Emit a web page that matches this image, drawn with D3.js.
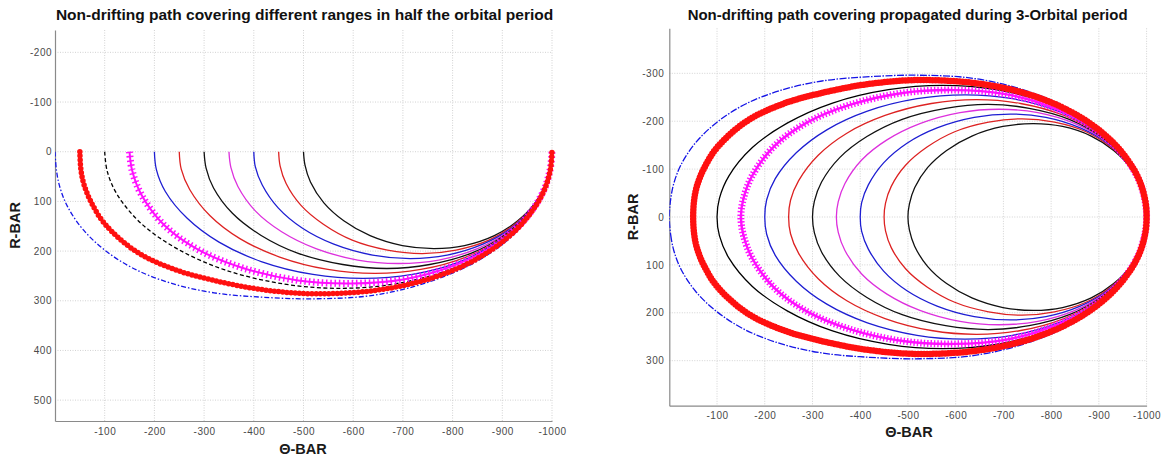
<!DOCTYPE html>
<html>
<head>
<meta charset="utf-8">
<script src="https://cdn.jsdelivr.net/npm/d3@7"></script>
<style>
  body { margin: 0; background: #fff; }
  text { font-family: "Liberation Sans", Arial, Helvetica, sans-serif; }
</style>
</head>
<body>
<svg id="chart" width="1165" height="459"></svg>
<script>
// tick values
const xTicks = [-100, -200, -300, -400, -500, -600, -700, -800, -900, -1000];
const yTicksLeft = [-200, -100, 0, 100, 200, 300, 400, 500];
const yTicksRight = [-300, -200, -100, 0, 100, 200, 300];

// each path: theta-bar samples, r-bar for the first half orbit (lo) and the second half (up)
// 0: blue dash-dot, starts at 0
const th0 = [0, -3, -10, -25, -55, -100, -160, -235, -320, -420, -525, -640, -750, -850, -925, -972, -994, -1000];
const lo0 = [0, 38, 72, 110, 155, 198, 236, 265, 284, 293, 296, 289, 263, 220, 165, 100, 45, 0];
const up0 = [0, -38, -72, -110, -155, -198, -236, -265, -284, -293, -296, -289, -263, -220, -165, -100, -45, 0];
// 1: red circles, starts at -50
const th1 = [-50, -52, -58, -72, -100, -162, -235, -315, -420, -530, -666, -780, -870, -935, -979, -996, -1000];
const lo1 = [0, 35, 65, 100, 145, 200, 235, 258, 278, 286, 276, 247, 203, 150, 89, 40, 0];
const up1 = [0, -35, -65, -100, -145, -200, -235, -258, -278, -286, -276, -247, -203, -150, -89, -40, 0];
// 2: black dashed, starts at -100
const th2 = [-100, -105, -125, -174, -247, -342, -459, -573, -684, -792, -877, -939, -980, -996, -1000];
const lo2 = [0, 39, 86, 145, 196, 238, 266, 275, 266, 238, 196, 145, 86, 39, 0];
const up2 = [0, -39, -86, -145, -196, -238, -266, -275, -266, -238, -196, -145, -86, -39, 0];
// 3: magenta plus, starts at -150
const th3 = [-150, -155, -173, -220, -288, -378, -489, -596, -701, -803, -883, -942, -981, -996, -1000];
const lo3 = [0, 37, 85, 148, 197, 234, 259, 265, 257, 229, 189, 140, 83, 37, 0];
const up3 = [0, -37, -85, -148, -197, -234, -259, -265, -257, -229, -189, -140, -83, -37, 0];
// 4: blue, starts at -200
const th4 = [-200, -204, -222, -266, -330, -415, -519, -620, -719, -815, -890, -946, -982, -996, -1000];
const lo4 = [0, 36, 80, 134, 182, 221, 247, 255, 247, 221, 182, 134, 80, 36, 0];
const up4 = [0, -36, -80, -134, -182, -221, -247, -255, -247, -221, -182, -134, -80, -36, 0];
// 5: red, starts at -250
const th5 = [-250, -254, -271, -312, -372, -452, -549, -644, -736, -827, -897, -949, -983, -997, -1000];
const lo5 = [0, 35, 76, 129, 175, 212, 237, 245, 237, 212, 175, 129, 76, 35, 0];
const up5 = [0, -35, -76, -129, -175, -212, -237, -245, -237, -212, -175, -129, -76, -35, 0];
// 6: black, starts at -300
const th6 = [-300, -304, -319, -357, -414, -488, -579, -668, -754, -838, -904, -952, -984, -997, -1000];
const lo6 = [0, 33, 73, 124, 168, 204, 227, 235, 227, 204, 168, 124, 73, 33, 0];
const up6 = [0, -33, -73, -124, -168, -204, -227, -235, -227, -204, -168, -124, -73, -33, 0];
// 7: magenta, starts at -350
const th7 = [-350, -354, -368, -403, -456, -525, -609, -691, -772, -850, -911, -956, -985, -997, -1000];
const lo7 = [0, 32, 70, 119, 161, 195, 218, 225, 218, 195, 161, 119, 70, 32, 0];
const up7 = [0, -32, -70, -119, -161, -195, -218, -225, -218, -195, -161, -119, -70, -32, 0];
// 8: blue, starts at -400
const th8 = [-400, -403, -417, -449, -498, -561, -639, -715, -789, -861, -918, -959, -987, -997, -1000];
const lo8 = [0, 30, 67, 113, 154, 186, 208, 215, 208, 186, 154, 113, 67, 30, 0];
const up8 = [0, -30, -67, -113, -154, -186, -208, -215, -208, -186, -154, -113, -67, -30, 0];
// 9: red, starts at -450
const th9 = [-450, -453, -465, -495, -540, -598, -669, -739, -807, -873, -925, -963, -988, -998, -1000];
const lo9 = [0, 29, 64, 108, 146, 178, 198, 205, 198, 178, 146, 108, 64, 29, 0];
const up9 = [0, -29, -64, -108, -146, -178, -198, -205, -198, -178, -146, -108, -64, -29, 0];
// 10: black, starts at -500
const th10 = [-500, -503, -514, -541, -581, -634, -699, -763, -824, -884, -931, -966, -989, -998, -1000];
const lo10 = [0, 27, 61, 103, 139, 169, 189, 195, 189, 169, 139, 103, 61, 27, 0];
const up10 = [0, -27, -61, -103, -139, -169, -189, -195, -189, -169, -139, -103, -61, -27, 0];

const thetas = [th0, th1, th2, th3, th4, th5, th6, th7, th8, th9, th10];
const lows = [lo0, lo1, lo2, lo3, lo4, lo5, lo6, lo7, lo8, lo9, lo10];
const ups = [up0, up1, up2, up3, up4, up5, up6, up7, up8, up9, up10];

// line styles (matlab-ish)
const styles = ["dashdot", "circle", "dashed", "plus", "solid", "solid", "solid", "solid", "solid", "solid", "solid"];
const colors = ["#1515e6", "#ff1010", "#000000", "#ff10ff", "#1e1ed2", "#dd2222", "#111111", "#dd30dd", "#1e1ed2", "#dd2222", "#111111"];
// thin lines go first, markers last
const drawOrder = [10, 9, 8, 7, 6, 5, 4, 0, 2, 3, 1];

const svg = d3.select("#chart");

function fitTitle(sel, target) {
    const len = sel.node().getComputedTextLength();
    sel.style("font-size", (13 * target / len) + "px");
}

function drawPanel(opt) {
    const x = d3.scaleLinear().domain([0, -1000]).range(opt.xRange);
    const y = d3.scaleLinear().domain(opt.yDomain).range(opt.yRange);
    const g = svg.append("g");

    // grid
    g.append("g").selectAll("line").data(xTicks).join("line")
        .attr("x1", d => x(d)).attr("x2", d => x(d))
        .attr("y1", opt.yRange[0]).attr("y2", opt.yRange[1])
        .attr("stroke", "#d2d2d2").attr("stroke-dasharray", "1,1.5");
    g.append("g").selectAll("line").data(opt.yTicks).join("line")
        .attr("x1", opt.xRange[0]).attr("x2", opt.xRange[1])
        .attr("y1", d => y(d)).attr("y2", d => y(d))
        .attr("stroke", "#d2d2d2").attr("stroke-dasharray", "1,1.5");

    // axes
    const xAxis = g.append("g")
        .attr("transform", `translate(0,${opt.yRange[1]})`)
        .call(d3.axisBottom(x).tickValues(xTicks).tickSize(0).tickPadding(6.5).tickFormat(d3.format("d")));
    const yAxis = g.append("g")
        .attr("transform", `translate(${opt.xRange[0]},0)`)
        .call(d3.axisLeft(y).tickValues(opt.yTicks).tickSize(0).tickPadding(opt.yPad).tickFormat(d3.format("d")));
    [xAxis, yAxis].forEach(a => {
        a.select(".domain").attr("stroke", "#8a8a8a").attr("stroke-width", 1.2);
        a.selectAll("text")
            .attr("fill", "#4a4a4a")
            .style("font-size", "10px")
            .style("letter-spacing", "0.5px")
            .text(d => String(d));
    });

    const clipId = "clip" + opt.id;
    svg.append("clipPath").attr("id", clipId).append("rect")
        .attr("x", opt.xRange[0]).attr("y", opt.yRange[0])
        .attr("width", opt.xRange[1] - opt.xRange[0] + 4)
        .attr("height", opt.yRange[1] - opt.yRange[0]);

    const plot = g.append("g").attr("clip-path", `url(#${clipId})`);

    drawOrder.forEach(i => {
        let pts = thetas[i].map((t, k) => [t, lows[i][k]]);
        let line = d3.line().x(d => x(d[0])).y(d => y(d[1])).curve(d3.curveCatmullRom.alpha(0.5));
        if (opt.closed) {
            const back = thetas[i].map((t, k) => [t, ups[i][k]]).reverse().slice(1, -1);
            pts = pts.concat(back);
            line = line.curve(d3.curveCatmullRomClosed.alpha(0.5));
        }
        const dstr = line(pts);
        const st = styles[i];
        const c = colors[i];
        if (st === "circle") {
            plot.append("path").attr("d", dstr).attr("fill", "none")
                .attr("stroke", c).attr("stroke-width", opt.closed ? 3.5 : 2);
            plot.append("path").attr("d", dstr).attr("fill", "none")
                .attr("stroke", c).attr("stroke-width", opt.closed ? 6.5 : 5.5)
                .attr("stroke-linecap", "round")
                .attr("stroke-dasharray", opt.closed ? "0 3" : "0 4.2");
        } else if (st === "plus") {
            plot.append("path").attr("d", dstr).attr("fill", "none")
                .attr("stroke", c).attr("stroke-width", opt.closed ? 2.4 : 2);
            plot.append("path").attr("d", dstr).attr("fill", "none")
                .attr("stroke", c).attr("stroke-width", 7)
                .attr("stroke-dasharray", opt.closed ? "1.4 2" : "1.5 2.8");
        } else {
            let dash = null;
            if (st === "dashdot") dash = opt.closed ? "7 1.5 1.5 1.5" : "5 2 1.5 2";
            if (st === "dashed" && !opt.closed) dash = "4 2.5";
            plot.append("path").attr("d", dstr).attr("fill", "none")
                .attr("stroke", c).attr("stroke-width", 1.3)
                .attr("stroke-dasharray", dash);
        }
    });

    // labels
    const title = svg.append("text")
        .attr("x", opt.titleX).attr("y", 19.5)
        .attr("text-anchor", "middle")
        .style("font-weight", "bold").style("font-size", "13px")
        .attr("fill", "#111")
        .text(opt.title);
    fitTitle(title, opt.titleW);

    svg.append("text")
        .attr("x", opt.xLabelX).attr("y", opt.xLabelY)
        .attr("text-anchor", "middle")
        .style("font-weight", "bold").style("font-size", "14.5px")
        .attr("fill", "#1a1a1a")
        .text("\u0398-BAR");

    svg.append("text")
        .attr("transform", `translate(${opt.yLabelX},${(opt.yRange[0] + opt.yRange[1]) / 2}) rotate(-90)`)
        .attr("text-anchor", "middle")
        .style("font-weight", "bold").style("font-size", "14.5px")
        .attr("fill", "#1a1a1a")
        .text("R-BAR");
}

drawPanel({
    id: "L",
    xRange: [55, 552],
    yDomain: [-245, 542],
    yRange: [30, 421],
    yTicks: yTicksLeft,
    yPad: 3,
    closed: false,
    title: "Non-drifting path covering different ranges in half the orbital period",
    titleX: 304.6, titleW: 498,
    xLabelX: 303, xLabelY: 454,
    yLabelX: 20
});

drawPanel({
    id: "R",
    xRange: [669.3, 1146.6],
    yDomain: [-394, 394],
    yRange: [28.3, 405.7],
    yTicks: yTicksRight,
    yPad: 5,
    closed: true,
    title: "Non-drifting path covering propagated during 3-Orbital period",
    titleX: 907.6, titleW: 440,
    xLabelX: 909, xLabelY: 437,
    yLabelX: 638
});
</script>
</body>
</html>
